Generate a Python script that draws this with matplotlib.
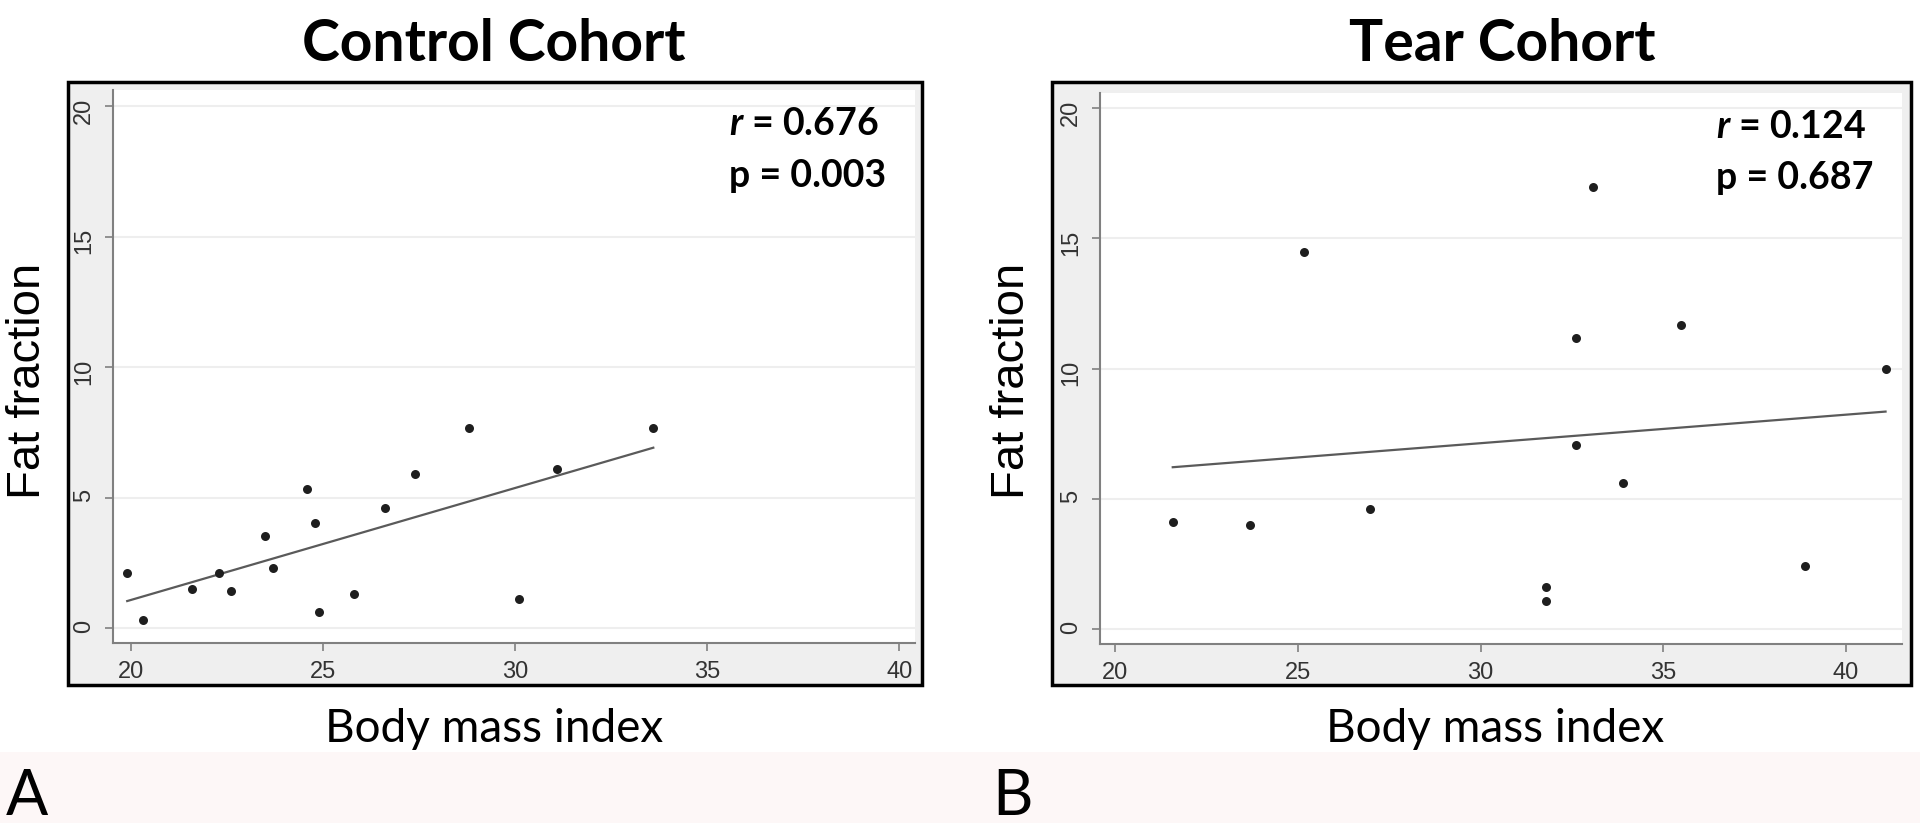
import matplotlib.pyplot as plt
import numpy as np
from matplotlib.patches import Rectangle

# %% Style
plt.rcParams.update(
    {
        "font.family": "Lato",
        "mathtext.fontset": "custom",
        "mathtext.it": "Lato:italic:bold",
        "mathtext.rm": "Lato:bold",
    }
)
AXIS_COLOR = "#808080"
TICK_TEXT = "#333333"
DOT_COLOR = "#1e1e1e"
FIT_COLOR = "#5a5a5a"

# %% Data
control_bmi = [19.91, 20.32, 21.60, 22.31, 22.60, 23.50, 23.71, 24.60, 24.80,
               24.90, 25.82, 26.61, 27.41, 28.81, 30.11, 31.09, 33.60]
control_fat = [2.11, 0.34, 1.50, 2.11, 1.44, 3.53, 2.31, 5.32, 4.02,
               0.61, 1.33, 4.62, 5.93, 7.69, 1.12, 6.12, 7.69]

tear_bmi = [25.18, 21.58, 23.69, 26.98, 33.08, 32.60, 35.49, 41.08, 32.60,
            33.89, 31.80, 31.80, 38.88]
tear_fat = [14.50, 4.09, 4.00, 4.61, 16.98, 11.19, 11.69, 9.99, 7.07,
            5.59, 1.60, 1.09, 2.40]

titles = ["Control Cohort", "Tear Cohort"]
r_texts = ["0.676", "0.124"]
p_texts = ["0.003", "0.687"]
panel_letters = ["A", "B"]
x_ticks = [20, 25, 30, 35, 40]
y_ticks = [0, 5, 10, 15, 20]

# %% Plot
W, H = 1920, 823
fig = plt.figure(figsize=(19.2, 8.23), dpi=100)


def fx(px):
    return px / W


def fy(py):
    return 1 - py / H


# pinkish strip at the bottom
fig.add_artist(Rectangle((0, 0), 1, fy(752), transform=fig.transFigure,
                         facecolor="#fdf7f7", edgecolor="none", zorder=-3))

panels = [
    dict(box=(68, 82, 922, 685), ax=(113, 90, 915, 643),
         xlim=(19.54, 40.41), ylim=(-0.56, 20.62),
         title_x=494, label_x=494, ylab_x=28, letter_x=6,
         x=control_bmi, y=control_fat),
    dict(box=(1052, 82, 1911, 685), ax=(1100, 93, 1902, 644),
         xlim=(19.59, 41.53), ylim=(-0.58, 20.59),
         title_x=1502, label_x=1495, ylab_x=1012, letter_x=992,
         x=tear_bmi, y=tear_fat),
]

for i, p in enumerate(panels):
    x0, y0, x1, y1 = p["box"]
    fig.add_artist(Rectangle((fx(x0), fy(y1)), fx(x1 - x0), (y1 - y0) / H,
                             transform=fig.transFigure, facecolor="#efefef",
                             edgecolor="black", linewidth=2.5, zorder=-1))
    a0, b0, a1, b1 = p["ax"]
    ax = fig.add_axes([fx(a0), fy(b1), fx(a1 - a0), (b1 - b0) / H])
    ax.set_facecolor("white")
    for side in ["top", "right"]:
        ax.spines[side].set_visible(False)
    for side in ["left", "bottom"]:
        ax.spines[side].set_color(AXIS_COLOR)
        ax.spines[side].set_linewidth(1.5)
    ax.set_xlim(*p["xlim"])
    ax.set_ylim(*p["ylim"])
    ax.set_xticks(x_ticks)
    ax.set_yticks(y_ticks)
    ax.tick_params(axis="both", length=6, width=1.2, color=AXIS_COLOR,
                   labelsize=17, labelcolor=TICK_TEXT, pad=7)
    ax.tick_params(axis="y", labelrotation=90)
    for lab in ax.get_xticklabels() + ax.get_yticklabels():
        lab.set_family("Liberation Sans")
    ax.yaxis.grid(True, color="#eeeeee", linewidth=1.5)
    ax.set_axisbelow(True)

    xs = np.array(p["x"])
    ys = np.array(p["y"])
    slope, icept = np.polyfit(xs, ys, 1)
    xl = np.array([xs.min(), xs.max()])
    ax.plot(xl, slope * xl + icept, color=FIT_COLOR, linewidth=1.6, zorder=2)
    ax.scatter(xs, ys, s=42, color=DOT_COLOR, zorder=3, linewidths=0)

    ax.text(0.768, 0.918, r"$r$ = " + r_texts[i], transform=ax.transAxes,
            fontsize=27, fontweight="bold", va="baseline", ha="left")
    ax.text(0.768, 0.825, "p = " + p_texts[i], transform=ax.transAxes,
            fontsize=27, fontweight="bold", va="baseline", ha="left")

    fig.text(fx(p["title_x"]), fy(61), titles[i], fontsize=41,
             fontweight="bold", ha="center", va="baseline")
    fig.text(fx(p["label_x"]), fy(742), "Body mass index", fontsize=33,
             ha="center", va="baseline")
    fig.text(fx(p["ylab_x"]), fy(381), "Fat fraction", fontsize=34,
             family="Liberation Sans", rotation=90, ha="center", va="center")
    fig.text(fx(p["letter_x"]), fy(815), panel_letters[i], fontsize=45,
             ha="left", va="baseline")

fig.savefig("out.png", dpi=100)
